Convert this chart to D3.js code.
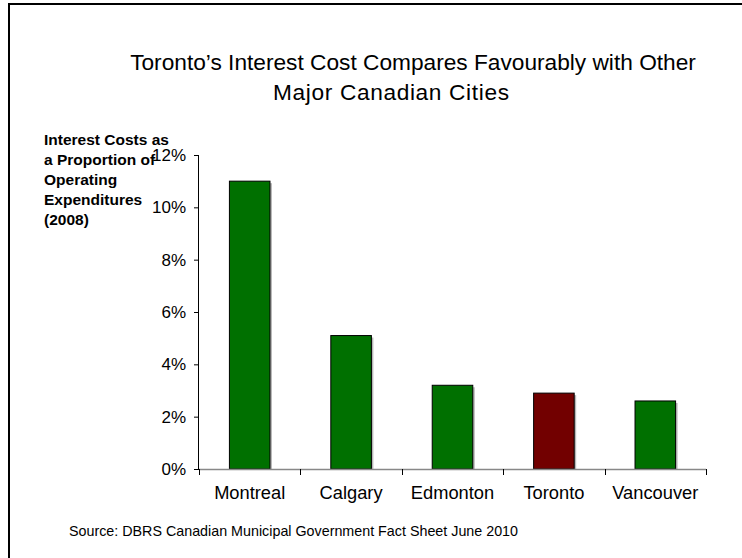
<!DOCTYPE html>
<html>
<head>
<meta charset="utf-8">
<script src="https://cdn.jsdelivr.net/npm/d3@7"></script>
<style>
  html, body { margin: 0; padding: 0; background: #fff; }
  svg { display: block; font-family: "Liberation Sans", Arial, sans-serif; }
</style>
</head>
<body>
<svg id="chart" width="742" height="558"></svg>
<script>
// Interest costs as a share of operating expenditures, 2008
const cities = ["Montreal", "Calgary", "Edmonton", "Toronto", "Vancouver"];
const interestShare = [11.0, 5.1, 3.2, 2.9, 2.6];
const highlightCity = "Toronto";
const yTicks = [0, 2, 4, 6, 8, 10, 12];
const titleLines = ["Toronto\u2019s Interest Cost Compares Favourably with Other", "Major Canadian Cities"];
const yLabelLines = ["Interest Costs as", "a Proportion of", "Operating", "Expenditures", "(2008)"];
const sourceNote = "Source:  DBRS Canadian Municipal Government Fact Sheet June 2010";

const svg = d3.select("#chart");
const W = 742, H = 558;
const plot = { left: 199, right: 706, top: 155, bottom: 469 };

// slide frame (top and left edges)
svg.append("path")
  .attr("d", `M9,${H} L9,4 L${W},4`)
  .attr("fill", "none")
  .attr("stroke", "#000")
  .attr("stroke-width", 2);

// title
svg.append("text").attr("x", 413).attr("y", 70)
  .attr("text-anchor", "middle").attr("font-size", 22.7).attr("fill", "#000")
  .text(titleLines[0]);
svg.append("text").attr("x", 391).attr("y", 100)
  .attr("text-anchor", "middle").attr("font-size", 22.7).attr("fill", "#000")
  .attr("textLength", 236)
  .text(titleLines[1]);

const x = d3.scaleBand()
  .domain(cities)
  .range([plot.left, plot.right])
  .paddingInner(0.6)
  .paddingOuter(0.3);

const y = d3.scaleLinear()
  .domain([0, 12])
  .range([plot.bottom, plot.top]);

const rows = cities.map((c, i) => ({ city: c, value: interestShare[i] }));

// bar shadows
svg.append("g").selectAll("rect")
  .data(rows).join("rect")
  .attr("x", d => x(d.city) + 2)
  .attr("y", d => y(d.value) + 2)
  .attr("width", x.bandwidth())
  .attr("height", d => y(0) - y(d.value) - 2)
  .attr("fill", "#b8b8b8");

// bars
svg.append("g").selectAll("rect")
  .data(rows).join("rect")
  .attr("x", d => x(d.city))
  .attr("y", d => y(d.value))
  .attr("width", x.bandwidth())
  .attr("height", d => y(0) - y(d.value))
  .attr("fill", d => d.city === highlightCity ? "#720000" : "#007000")
  .attr("stroke", "#000")
  .attr("stroke-width", 1);

// y axis
const yAxis = svg.append("g")
  .attr("transform", `translate(${plot.left},0)`)
  .call(d3.axisLeft(y).tickValues(yTicks).tickFormat(d => d + "%").tickSize(5).tickPadding(8));
yAxis.select(".domain").attr("stroke", "#000").attr("d", `M-0.5,${plot.top}V${plot.bottom}`);
yAxis.selectAll(".tick line").attr("stroke", "#000");
yAxis.selectAll(".tick text")
  .attr("font-size", 17).attr("fill", "#000")
  .attr("font-family", "Liberation Sans, Arial, sans-serif");

// x axis: grey baseline with ticks on category boundaries
const xAxisG = svg.append("g").attr("transform", `translate(0,${plot.bottom})`);
xAxisG.append("line")
  .attr("x1", plot.left).attr("x2", plot.right)
  .attr("y1", 0.5).attr("y2", 0.5)
  .attr("stroke", "#888").attr("stroke-width", 1.5);
const bounds = cities.map(c => x(c) - x.step() * x.paddingInner() / 2).concat([plot.right]);
bounds[0] = plot.left;
xAxisG.selectAll("line.bound")
  .data(bounds).join("line").attr("class", "bound")
  .attr("x1", d => Math.round(d) + 0.5).attr("x2", d => Math.round(d) + 0.5)
  .attr("y1", 0).attr("y2", 6)
  .attr("stroke", "#000");
xAxisG.selectAll("text")
  .data(cities).join("text")
  .attr("x", d => x(d) + x.bandwidth() / 2)
  .attr("y", 30)
  .attr("text-anchor", "middle")
  .attr("font-size", 18.3)
  .attr("fill", "#000")
  .text(d => d);

// y-axis caption
svg.append("text")
  .attr("font-size", 15.5).attr("font-weight", "bold").attr("fill", "#000")
  .selectAll("tspan")
  .data(yLabelLines).join("tspan")
  .attr("x", 44)
  .attr("y", (d, i) => 145 + i * 20)
  .text(d => d);

// source note
svg.append("text")
  .attr("x", 69).attr("y", 536)
  .attr("font-size", 14.3).attr("fill", "#000")
  .text(sourceNote);
</script>
</body>
</html>
